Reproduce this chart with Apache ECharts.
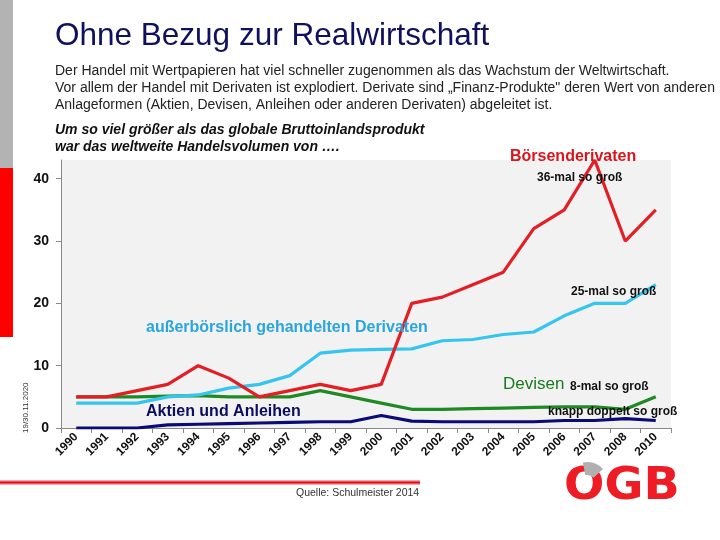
<!DOCTYPE html>
<html><head><meta charset="utf-8">
<script src="https://cdn.jsdelivr.net/npm/echarts@6/dist/echarts.min.js"></script>
<style>html,body{margin:0;padding:0;background:#fff}#c{width:720px;height:540px}</style>
</head><body><div id="c"></div>
<script>
var years = ['1990','1991','1992','1993','1994','1995','1996','1997','1998','1999','2000','2001','2002','2003','2004','2005','2006','2007','2008','2010'];
var boersenderivate = [5,5,6,7,10,8,5,6,7,6,7,20,21,23,25,32,35,43,30,35];
var ausserboerslich = [4,4,4,5,5.3,6.4,7,8.4,12,12.5,12.6,12.7,14,14.2,15,15.4,18,20,20,23];
var devisen = [5,5,5,5.1,5.2,5,5,5,6,5,4,3,3,3.1,3.2,3.3,3.4,3.4,3,5];
var aktienAnleihen = [0,0,0,0.5,0.6,0.7,0.8,0.9,1,1,2,1.1,1,1,1,1,1.2,1.2,1.5,1.2];
var yTicks = [0,10,20,30,40];

var chart = echarts.init(document.getElementById('c'));
var F = 'Liberation Sans, Arial, sans-serif';
function txt(x,y,s,o){return {type:'text',left:x,top:y,style:Object.assign({text:s,fontFamily:F,fontSize:13,fill:'#222'},o||{}),z:10};}
chart.setOption({
  animation:false,
  grid:{left:61,right:49,top:160,bottom:112,show:true,backgroundColor:'#f2f2f2',borderWidth:0},
  xAxis:{type:'category',data:years,boundaryGap:true,
    axisLine:{lineStyle:{color:'#888',width:1}},
    axisTick:{show:true,interval:0,length:5,lineStyle:{color:'#888'}},
    axisLabel:{interval:0,rotate:45,fontFamily:F,fontSize:12,fontWeight:'bold',color:'#111',margin:7}},
  yAxis:{type:'value',min:0,max:43,interval:10,splitLine:{show:false},
    axisLine:{show:true,lineStyle:{color:'#888'}},
    axisTick:{show:true,length:5,customValues:yTicks,lineStyle:{color:'#888'}},
    axisLabel:{customValues:yTicks,fontFamily:F,fontSize:14,fontWeight:'bold',color:'#111',margin:12}},
  series:[
    {type:'line',data:boersenderivate,symbol:'none',lineStyle:{color:'#e31e24',width:3.2},z:4},
    {type:'line',data:ausserboerslich,symbol:'none',lineStyle:{color:'#35c5ee',width:3.2},z:3},
    {type:'line',data:devisen,symbol:'none',lineStyle:{color:'#1f8a24',width:3.2},z:2},
    {type:'line',data:aktienAnleihen,symbol:'none',lineStyle:{color:'#0b0b78',width:3.2},z:1}
  ],
  graphic:[
    {type:'rect',shape:{x:0,y:0,width:13,height:168},style:{fill:'#b3b3b3'}},
    {type:'rect',shape:{x:0,y:168,width:13,height:169},style:{fill:'#ff0000'}},
    txt(55,20,'Ohne Bezug zur Realwirtschaft',{fontSize:31.5,fill:'#10105e'}),
    txt(55,64,'Der Handel mit Wertpapieren hat viel schneller zugenommen als das Wachstum der Weltwirtschaft.',{fontSize:14,fill:'#222'}),
    txt(55,81,'Vor allem der Handel mit Derivaten ist explodiert. Derivate sind \u201EFinanz-Produkte" deren Wert von anderen',{fontSize:14,fill:'#222'}),
    txt(55,98,'Anlageformen (Aktien, Devisen, Anleihen oder anderen Derivaten) abgeleitet ist.',{fontSize:14,fill:'#222'}),
    txt(55,123,'Um so viel größer als das globale Bruttoinlandsprodukt',{fontSize:14,fontWeight:'bold',fontStyle:'italic',fill:'#111'}),
    txt(55,140,'war das weltweite Handelsvolumen von \u2026.',{fontSize:14,fontWeight:'bold',fontStyle:'italic',fill:'#111'}),
    txt(510,149,'Börsenderivaten',{fontSize:16,fontWeight:'bold',fill:'#d9151b'}),
    txt(537,172,'36-mal so groß',{fontSize:12,fontWeight:'bold',fill:'#111'}),
    txt(571,286,'25-mal so groß',{fontSize:12,fontWeight:'bold',fill:'#111'}),
    txt(146,320,'außerbörslich gehandelten Derivaten',{fontSize:16,fontWeight:'bold',fill:'#2aa6dc'}),
    txt(503,376,'Devisen',{fontSize:17,fill:'#1a7a1e'}),
    txt(570,381,'8-mal so groß',{fontSize:12,fontWeight:'bold',fill:'#111'}),
    txt(548,406,'knapp doppelt so groß',{fontSize:12,fontWeight:'bold',fill:'#111'}),
    txt(146,404,'Aktien und Anleihen',{fontSize:16,fontWeight:'bold',fill:'#0d0d5e'}),
    {type:'text',x:26,y:433,rotation:Math.PI/2,style:{text:'19/30.11.2020',fontFamily:F,fontSize:8,fill:'#333',align:'left',verticalAlign:'middle'},z:10},
    {type:'rect',shape:{x:0,y:480,width:420,height:5},style:{fill:new echarts.graphic.LinearGradient(0,0,0,1,[{offset:0,color:'rgba(227,6,19,0.2)'},{offset:0.5,color:'#e30613'},{offset:1,color:'rgba(227,6,19,0.2)'}])}},
    txt(296,488,'Quelle: Schulmeister 2014',{fontSize:10.5,fill:'#333'}),
    {type:'text',x:564,y:466,scaleX:1.08,style:{text:'OGB',fontSize:44,fontWeight:900,fill:'#ee1c25',fontFamily:'DejaVu Sans, sans-serif'},z:10},
    {type:'sector',shape:{cx:587,cy:484,r0:9,r:22,startAngle:-Math.PI*0.56,endAngle:-Math.PI*0.24},style:{fill:'#b0b0b0'},z:11}
  ]
});
</script></body></html>
